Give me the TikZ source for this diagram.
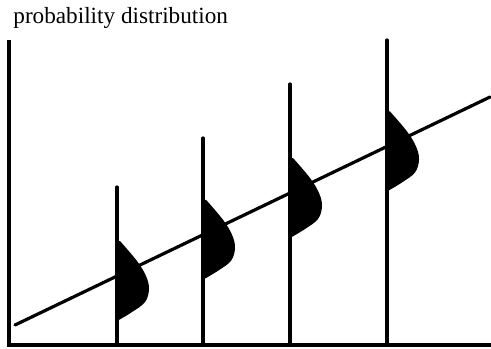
\documentclass[tikz,border=0pt]{standalone}
\usepackage{fontspec}
\setmainfont{Liberation Serif}
\tikzset{
  axisline/.style={line width=1.6pt, draw=black},
  stemline/.style={line width=1.6pt, draw=black, line cap=round},
  trendline/.style={line width=1.6pt, draw=black, line cap=round},
  bell/.style={fill=black},
  heading/.style={font=\fontsize{11.6}{13}\selectfont, anchor=base west, inner sep=0pt},
}
\begin{document}
\begin{tikzpicture}[x=0.5pt, y=-0.5pt]
  \useasboundingbox (0,0) rectangle (491,348);
  % title
  \node[heading] (title) at (13,24) {probability distribution};
  % axes
  \coordinate (origin) at (9,345);
  \coordinate (ytop) at (9,40);
  \coordinate (xend) at (491,345);
  \draw[axisline] (ytop) -- (origin) -- (xend);
  % trend
  \coordinate (tstart) at (15,325);
  \coordinate (tend) at (490,97);
  \draw[trendline] (tstart) -- (tend);
  % distributions along the trend
  \foreach \sx/\top [count=\i] in {117/187, 203/138, 290/84, 387/40} {
    \pgfmathsetmacro{\cy}{325-0.48*(\sx-15)}
    \begin{scope}[shift={(\sx,\cy)}]
      \fill[bell] (0,-35) -- plot[smooth, tension=0.6] coordinates
        {(3,-35) (20,-15) (29,0) (32,13) (28,26) (15,36) (0,45)} -- cycle;
    \end{scope}
    \coordinate (stemtop\i) at (\sx,\top);
    \coordinate (stembot\i) at (\sx,345);
    \draw[stemline] (stemtop\i) -- (stembot\i);
  }
\end{tikzpicture}
\end{document}
